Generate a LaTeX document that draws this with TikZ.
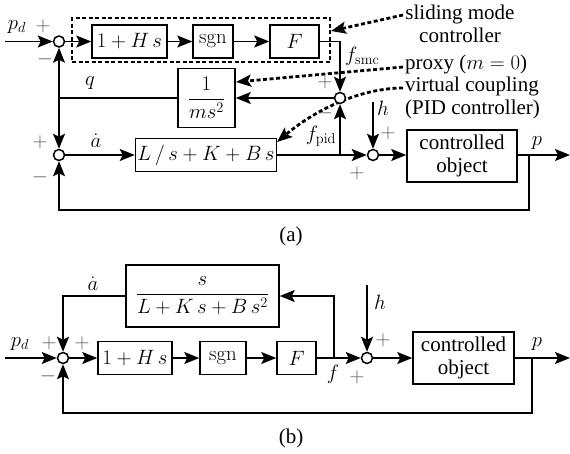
\documentclass[tikz,border=0pt]{standalone}
\usepackage{amsmath}
\usepackage[no-math]{fontspec}
\setmainfont{Liberation Serif}
\usetikzlibrary{arrows.meta}
\begin{document}
\begin{tikzpicture}[x=1pt,y=-1pt,
  font=\fontsize{21}{23}\selectfont,
  >={Stealth[length=15pt,width=12pt,inset=3pt]},
  blk/.style={draw,line width=1.5pt,minimum height=33pt,inner sep=2pt},
  sumc/.style={draw,circle,line width=1.5pt,minimum size=11pt,inner sep=0pt,fill=white},
  sig/.style={line width=1.5pt},
  ann/.style={line width=2.8pt,dash pattern=on 4pt off 2.5pt},
  sgnl/.style={text=black!65,inner sep=0pt},
  lbl/.style={inner sep=0pt}]
\useasboundingbox (0,0) rectangle (570,453);

% ================= (a) =================
% annotation texts
\node[lbl,align=center] (tsm) at (460,24) {sliding mode\\controller};
\node[lbl,anchor=west] (tpx) at (405,64) {proxy ($m=0$)};
\node[lbl,anchor=west,align=left] (tvc) at (405,98) {virtual coupling\\(PID controller)};
\coordinate (a1s) at (403,15);
\coordinate (a1e) at (331,31);
\coordinate (a2s) at (403,67);
\coordinate (a2e) at (236,82);
\coordinate (a3s) at (403,88);
\coordinate (a3e) at (277,142);

% dashed sliding-mode box
\node[ann,draw,minimum width=258pt,minimum height=44pt,inner sep=0pt] (smc) at (201,40) {};

% virtual coupling annotation (drawn below the summing circle)
\draw[ann,->] (a3s) .. controls (365,88) and (320,106) .. (a3e);

\coordinate (ina) at (5,41.5);
\node[sumc] (c1) at (59,41.5) {};
\node[blk,minimum width=75pt] (hs) at (129.5,41.5) {$1+H\,s$};
\node[blk,minimum width=40pt] (sg) at (213,41.5) {$\mathrm{sgn}$};
\node[blk,minimum width=49pt] (ff) at (294.5,41.5) {$F$};
\coordinate (fs) at (340,41.5);
\node[sumc] (c2) at (340,98) {};
\node[blk,minimum width=57pt,minimum height=59pt] (ms) at (206.5,98) {$\dfrac{1}{ms^2}$};
\coordinate (j1) at (59,98);
\node[sumc] (c3) at (59,155) {};
\node[blk,minimum width=140pt] (pid) at (206,155) {$L\,/\,s+K+B\,s$};
\coordinate (j2) at (340,155);
\node[sumc] (c4) at (373,155) {};
\coordinate (ha) at (373,102);
\node[blk,minimum width=110pt,minimum height=52pt,align=center] (co1) at (462,156) {controlled\\object};
\coordinate (pa) at (529,155);
\coordinate (outa) at (570,155);
\coordinate (fbka) at (529,210);
\coordinate (fbkb) at (59,210);

\draw[sig,->] (ina) -- (c1);
\draw[sig,->] (c1) -- (hs);
\draw[sig,->] (hs) -- (sg);
\draw[sig,->] (sg) -- (ff);
\draw[sig,->] (ff.east) -- (fs) -- (c2);
\draw[sig,->] (c2) -- (ms);
\draw[sig] (ms) -- (j1);
\draw[sig,->] (j1) -- (c1);
\draw[sig,->] (j1) -- (c3);
\draw[sig,->] (c3) -- (pid);
\draw[sig,->] (pid) -- (c4);
\draw[sig,->] (j2) -- (c2);
\draw[sig,->] (ha) -- (c4);
\draw[sig,->] (c4) -- (c4 -| co1.west);
\draw[sig,->] (co1.east |- pa) -- (outa);
\draw[sig,->] (pa) -- (fbka) -- (fbkb) -- (c3);

% other annotations
\draw[ann,->] (a1s) -- (a1e);
\draw[ann,->] (a2s) -- (a2e);

% labels (a)
\node[lbl] at (17,27) {$p_d$};
\node[sgnl] at (43,26) {$+$};
\node[sgnl] at (45,59) {$-$};
\node[lbl] at (90,83) {$q$};
\node[sgnl] at (325,82) {$+$};
\node[sgnl] at (325,113) {$-$};
\node[lbl,anchor=west] at (345,56) {$f_{\mathrm{smc}}$};
\node[sgnl] at (40,142) {$+$};
\node[sgnl] at (40,177) {$-$};
\node[lbl] at (96,141) {$\dot a$};
\node[lbl] at (321,136) {$f_{\mathrm{pid}}$};
\node[lbl] at (383,108) {$h$};
\node[sgnl] at (388,133) {$+$};
\node[sgnl] at (357,173) {$+$};
\node[lbl] at (537,143) {$p$};
\node[lbl] at (291,236) {(a)};

% ================= (b) =================
\coordinate (inb) at (5,358);
\node[sumc] (c5) at (63,358) {};
\node[blk,minimum width=74pt] (hsb) at (135,358) {$1+H\,s$};
\node[blk,minimum width=46pt] (sgb) at (223,358) {$\mathrm{sgn}$};
\node[blk,minimum width=39pt] (fb) at (296.5,358) {$F$};
\coordinate (j4) at (334,358);
\node[blk,minimum width=153pt,minimum height=62pt] (vc) at (202.5,296) {$\dfrac{s}{L+K\,s+B\,s^2}$};
\coordinate (j4t) at (334,296);
\coordinate (j5) at (63,296);
\node[sumc] (c6) at (367,358) {};
\coordinate (hb) at (367,285);
\node[blk,minimum width=101pt,minimum height=52pt,align=center] (co2) at (463.5,358) {controlled\\object};
\coordinate (pb) at (532,358);
\coordinate (outb) at (570,358);
\coordinate (fbkc) at (532,413);
\coordinate (fbkd) at (63,413);

\draw[sig,->] (inb) -- (c5);
\draw[sig,->] (c5) -- (hsb);
\draw[sig,->] (hsb) -- (sgb);
\draw[sig,->] (sgb) -- (fb);
\draw[sig,->] (fb) -- (c6);
\draw[sig,->] (j4) -- (j4t) -- (vc);
\draw[sig,->] (vc) -- (j5) -- (c5);
\draw[sig,->] (hb) -- (c6);
\draw[sig,->] (c6) -- (co2);
\draw[sig,->] (co2) -- (outb);
\draw[sig,->] (pb) -- (fbkc) -- (fbkd) -- (c5);

% labels (b)
\node[lbl] at (20,344) {$p_d$};
\node[sgnl] at (49,343) {$+$};
\node[sgnl] at (82,343) {$+$};
\node[sgnl] at (48,376) {$-$};
\node[lbl] at (93,284) {$\dot a$};
\node[lbl] at (333,374) {$f$};
\node[sgnl] at (357,377) {$+$};
\node[sgnl] at (383,340) {$+$};
\node[lbl] at (380,302) {$h$};
\node[lbl] at (537,344) {$p$};
\node[lbl] at (291,438) {(b)};
\end{tikzpicture}
\end{document}
